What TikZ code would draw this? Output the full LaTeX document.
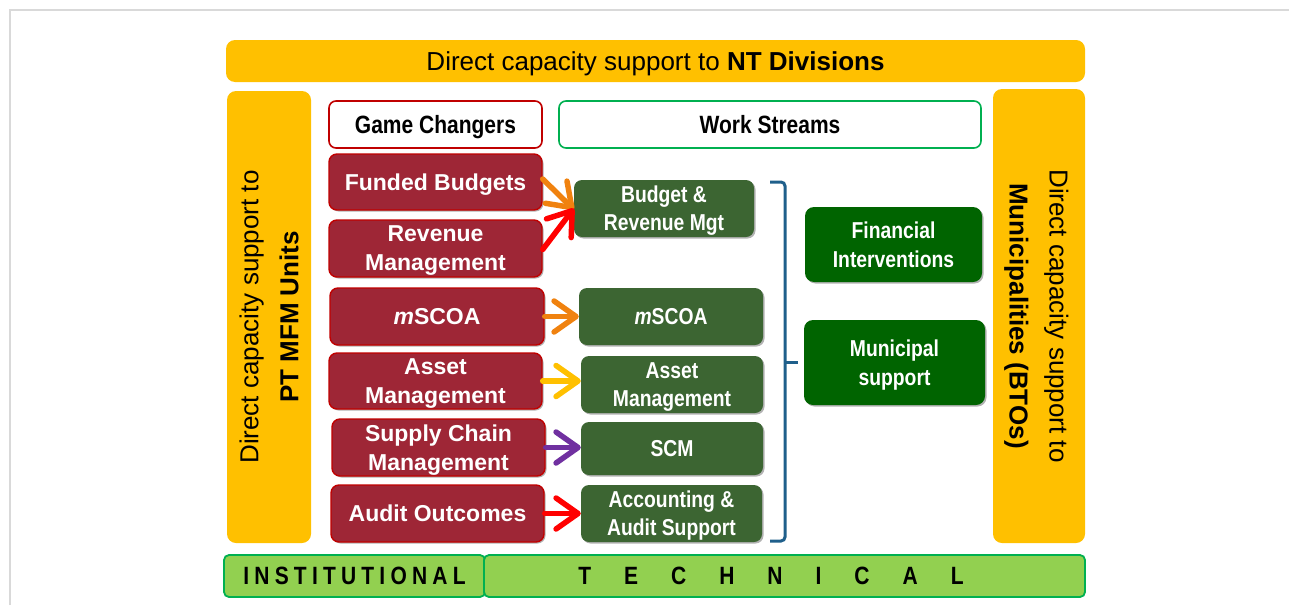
\documentclass[tikz,border=0pt]{standalone}
\usepackage{fontspec}
\setmainfont{Liberation Sans}
\newfontfamily\narrowfont[FakeStretch=0.84]{Liberation Sans}
\usetikzlibrary{arrows.meta,shadows}
\definecolor{barY}{HTML}{FFC000}
\definecolor{gcRed}{HTML}{9E2636}
\definecolor{gcEdge}{HTML}{C00000}
\definecolor{wsGreen}{HTML}{3C6532}
\definecolor{dkGreen}{HTML}{006400}
\definecolor{ltGreen}{HTML}{92D050}
\definecolor{edGreen}{HTML}{00B050}
\definecolor{brBlue}{HTML}{1F5F8B}
\definecolor{arOrange}{HTML}{F0820F}
\definecolor{arYellow}{HTML}{FFC000}
\definecolor{arPurple}{HTML}{7030A0}
\definecolor{arRed}{HTML}{FF0000}
\definecolor{frameGray}{HTML}{D9D9D9}
\newcommand{\ls}{\kern5.2pt}
\begin{document}
\begin{tikzpicture}[x=1pt,y=-1pt,
  every node/.style={text depth=0pt},
  ml/.style={text depth=-5pt},
  shd/.style={drop shadow={shadow xshift=1.5pt,shadow yshift=-1.5pt,opacity=0.3,fill=black}},
  ybar/.style={fill=barY,rounded corners=9pt,inner sep=0pt,align=center,
    font=\fontsize{26}{40}\selectfont},
  headR/.style={draw=gcEdge,line width=1.6pt,fill=white,rounded corners=7pt,inner sep=0pt,
    font=\narrowfont\bfseries\fontsize{25}{29}\selectfont},
  headG/.style={draw=edGreen,line width=1.6pt,fill=white,rounded corners=7pt,inner sep=0pt,
    font=\narrowfont\bfseries\fontsize{25}{29}\selectfont},
  gcbox/.style={shd,draw=gcEdge,line width=1.4pt,fill=gcRed,rounded corners=8pt,inner sep=0pt,
    text=white,align=center,font=\bfseries\fontsize{23}{29}\selectfont},
  wsbox/.style={shd,fill=wsGreen,rounded corners=8pt,inner sep=0pt,
    text=white,align=center,font=\narrowfont\bfseries\fontsize{23}{28}\selectfont},
  dkbox/.style={shd,fill=dkGreen,rounded corners=9pt,inner sep=0pt,
    text=white,align=center,font=\narrowfont\bfseries\fontsize{23}{29}\selectfont},
  lgbar/.style={draw=edGreen,line width=1.8pt,fill=ltGreen,rounded corners=5pt,inner sep=0pt,
    font=\narrowfont\bfseries\fontsize{25}{29}\selectfont},
  arr/.style={line width=5.5pt,line cap=round,line join=round,
    -{Straight Barb[length=22pt,width=31pt,line cap=round,line join=round]}},
]
\useasboundingbox (0,0) rectangle (1289,605);
\draw[frameGray,line width=1.5pt] (10,605) -- (10,10) -- (1289,10);

% yellow bars
\node[ybar,minimum width=859,minimum height=42] (top) at (655.5,61)
  {Direct capacity support to \textbf{NT Divisions}};
\node[ybar,rotate=90,minimum width=452,minimum height=84] (left) at (269,317)
  {Direct capacity support to\\\textbf{PT MFM Units}};
\node[ybar,rotate=-90,minimum width=454,minimum height=92] (right) at (1039,316)
  {Direct capacity support to\\\textbf{Municipalities (BTOs)}};

% headers
\node[headR,minimum width=213,minimum height=47] (gc) at (435.5,124.5) {Game Changers};
\node[headG,minimum width=422,minimum height=47] (ws) at (770,124.5) {Work Streams};

% game changers
\node[gcbox,minimum width=213,minimum height=56] (fb) at (435.5,182) {Funded Budgets};
\node[gcbox,ml,minimum width=213,minimum height=57] (rm) at (435.5,248.5) {Revenue\\Management};
\node[gcbox,minimum width=214,minimum height=57] (ms) at (437,316.5) {\textit{m}SCOA};
\node[gcbox,ml,minimum width=213,minimum height=56] (am) at (435.5,381) {Asset\\Management};
\node[gcbox,ml,minimum width=213,minimum height=57] (sc) at (438.5,447.5) {Supply Chain\\Management};
\node[gcbox,minimum width=213,minimum height=57] (ao) at (437.5,513.5) {Audit Outcomes};

% work streams
\node[wsbox,ml,minimum width=180,minimum height=57] (brm) at (664,208.5) {Budget \&\\Revenue Mgt};
\node[wsbox,minimum width=184,minimum height=57] (ms2) at (671,316.5) {\textit{m}SCOA};
\node[wsbox,ml,minimum width=182,minimum height=57] (am2) at (672,384.5) {Asset\\Management};
\node[wsbox,minimum width=182,minimum height=53] (scm) at (672,448.5) {SCM};
\node[wsbox,ml,minimum width=181,minimum height=57] (acc) at (671.5,513.5) {Accounting \&\\Audit Support};

\node[dkbox,ml,minimum width=177,minimum height=75] (fi) at (893.5,244.5) {Financial\\Interventions};
\node[dkbox,ml,minimum width=181,minimum height=85] (mu) at (894.5,362.5) {Municipal\\support};

% bracket
\draw[brBlue,line width=3pt,rounded corners=4pt] (770,182) -- (785,182) -- (785,541) -- (770,541);
\draw[brBlue,line width=3pt] (785,362) -- (798,362);

% arrows
\draw[arr,arOrange] ([yshift=3pt]fb.east) -- ([yshift=-1pt]brm.west);
\draw[arr,arRed] ([yshift=-1pt]rm.east) -- ([yshift=0pt]brm.west);
\draw[arr,arOrange] (ms.east) -- (ms.east -| ms2.west);
\draw[arr,arYellow] (am.east) -- (am.east -| am2.west);
\draw[arr,arPurple] (sc.east) -- (sc.east -| scm.west);
\draw[arr,arRed] (ao.east) -- (ao.east -| acc.west);

% bottom bars
\node[lgbar,minimum width=261,minimum height=42] (inst) at (354.5,576)
  {I\ls N\ls S\ls T\ls I\ls T\ls U\ls T\ls I\ls O\ls N\ls A\ls L};
\node[lgbar,minimum width=601,minimum height=42] (tech) at (784.5,576)
  {{\spaceskip=33pt\relax T E C H N I C A L}\kern27pt};
\end{tikzpicture}
\end{document}
